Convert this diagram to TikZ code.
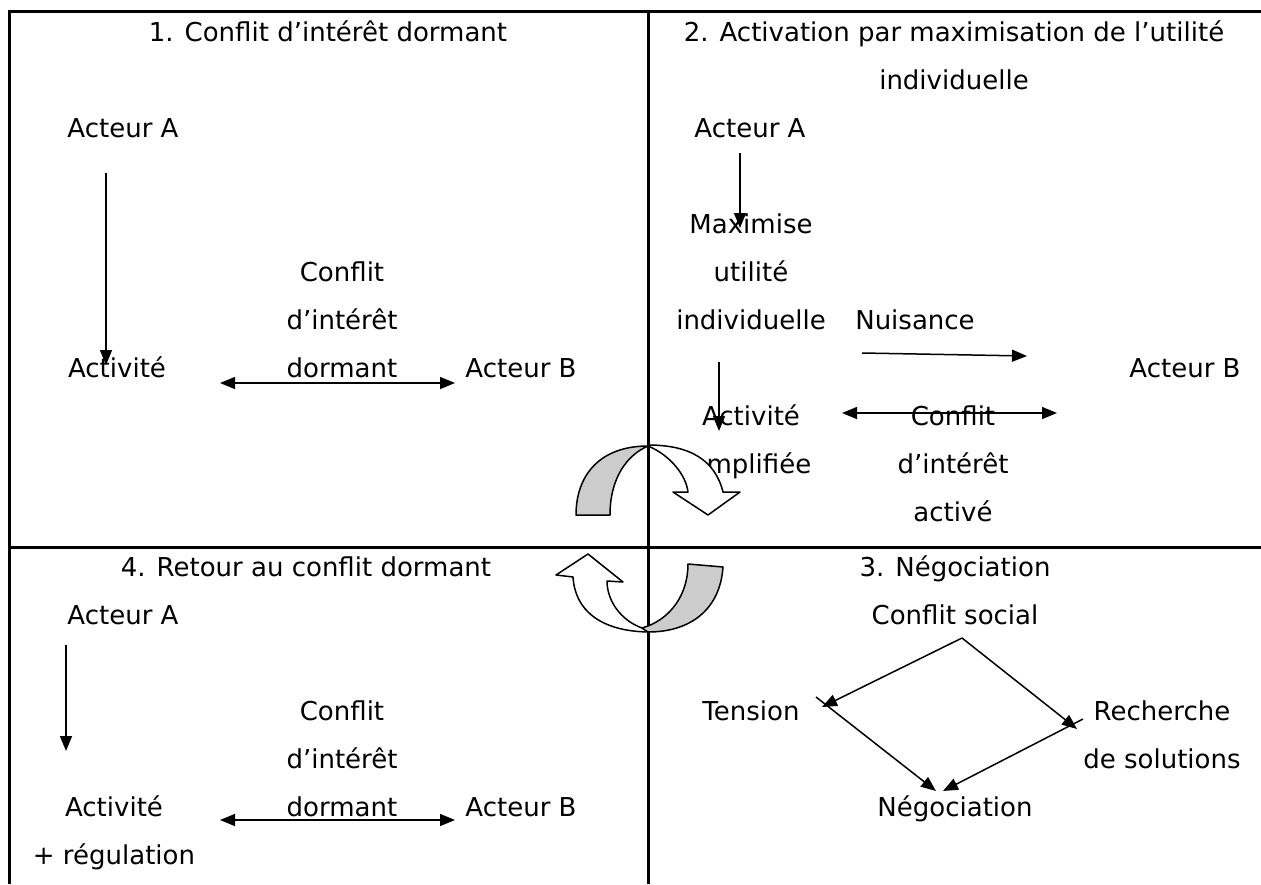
\documentclass[tikz,border=0pt]{standalone}
\usepackage{fontspec}
\setmainfont{DejaVu Sans}
\usetikzlibrary{arrows.meta}

\begin{document}
\begin{tikzpicture}[x=1pt,y=-1pt,
  txt/.style={font=\fontsize{26}{48}\selectfont,align=center,inner sep=0pt,
    anchor=north,yshift=33.6pt,execute at begin node=\strut},
  fleche/.style={line width=1.5pt,-{Triangle[length=15pt,width=12pt]}},
  fleches/.style={line width=1.5pt,{Triangle[length=15pt,width=12pt]}-{Triangle[length=15pt,width=12pt]}},
  cadre/.style={line width=3pt},
  ruban/.style={line width=1.5pt,line join=round}]
  \useasboundingbox (0,0) rectangle (1261,884);
  % cadre
  \draw[cadre] (1261,11) -- (9,11) -- (9,884);
  \draw[cadre] (648,11) -- (648,884);
  \draw[cadre] (8,547) -- (1261,547);

  % 1. conflit dormant
  \node[txt] (t1) at (328,41) {1. Conflit d’intérêt dormant};
  \node[txt] (a1) at (123,137) {Acteur A};
  \node[txt] (act1) at (117,377) {Activité};
  \node[txt] (cf1) at (342,281) {\strut Conflit\\d’intérêt\\dormant};
  \node[txt] (b1) at (521,377) {Acteur B};
  \coordinate (a1bas) at (106,173);
  \coordinate (act1haut) at (106,365);
  \coordinate (g1) at (220,383);
  \coordinate (d1) at (455,383);
  \draw[fleche] (a1bas) -- (act1haut);
  \draw[fleches] (g1) -- (d1);

  % 2. activation
  \node[txt] (t2) at (954,41) {\strut 2. Activation par maximisation de l’utilité\\individuelle};
  \node[txt] (a2) at (750,137) {Acteur A};
  \node[txt] (max2) at (751,233) {\strut Maximise\\utilité\\individuelle};
  \node[txt] (nui2) at (915,329) {Nuisance};
  \node[txt] (b2) at (1185,377) {Acteur B};
  \node[txt] (act2) at (751,425) {\strut Activité\\amplifiée};
  \node[txt] (cf2) at (953,425) {\strut Conflit\\d’intérêt\\activé};
  \coordinate (a2bas) at (740,153);
  \coordinate (max2haut) at (740,228);
  \coordinate (max2bas) at (719,362);
  \coordinate (act2haut) at (719,431);
  \coordinate (n1) at (862,353);
  \coordinate (n2) at (1027,356);
  \coordinate (g2) at (842,413);
  \coordinate (d2) at (1057,413);
  \draw[fleche] (a2bas) -- (max2haut);
  \draw[fleche] (max2bas) -- (act2haut);
  \draw[fleche] (n1) -- (n2);
  \draw[fleches] (g2) -- (d2);

  % 3. negociation
  \node[txt] (t3) at (955,576) {3. Négociation};
  \node[txt] (cs3) at (955,624) {Conflit social};
  \node[txt] (ten3) at (751,720) {Tension};
  \node[txt] (rec3) at (1162,720) {\strut Recherche\\de solutions};
  \node[txt] (neg3) at (955,816) {Négociation};
  \coordinate (s3) at (962,638);
  \coordinate (ten3p) at (822,707);
  \coordinate (ten3q) at (816,697);
  \coordinate (rec3p) at (1077,729);
  \coordinate (rec3q) at (1083,719);
  \coordinate (neg3g) at (936,791);
  \coordinate (neg3d) at (943,791);
  \draw[fleche] (s3) -- (ten3p);
  \draw[fleche] (s3) -- (rec3p);
  \draw[fleche] (ten3q) -- (neg3g);
  \draw[fleche] (rec3q) -- (neg3d);

  % 4. retour
  \node[txt] (t4) at (306,576) {4. Retour au conflit dormant};
  \node[txt] (a4) at (123,624) {Acteur A};
  \node[txt] (act4) at (114,816) {\strut Activité\\+ régulation};
  \node[txt] (cf4) at (342,720) {\strut Conflit\\d’intérêt\\dormant};
  \node[txt] (b4) at (521,816) {Acteur B};
  \coordinate (a4bas) at (66,645);
  \coordinate (act4haut) at (66,751);
  \coordinate (g4) at (220,820);
  \coordinate (d4) at (455,820);
  \draw[fleche] (a4bas) -- (act4haut);
  \draw[fleches] (g4) -- (d4);

  % fleches circulaires
  \draw[ruban,fill=white] (648,446) .. controls (670,455) and (686,475) .. (688,492)
    -- (673,492) -- (708,515) -- (740,492) -- (723,492)
    .. controls (715,460) and (690,445) .. (648,445) -- cycle;
  \draw[ruban,fill=gray!40] (576,515) -- (610,515) .. controls (610,478) and (627,455) .. (648,446)
    .. controls (600,446) and (576,475) .. (576,515) -- cycle;
  \draw[ruban,fill=white] (642,628) .. controls (620,620) and (607,600) .. (607,581)
    -- (623,582) -- (588,554) -- (556,575) -- (573,577)
    .. controls (575,610) and (600,631) .. (648,632) -- cycle;
  \draw[ruban,fill=gray!40] (688,564) -- (723,567) .. controls (720,610) and (690,632) .. (648,632)
    -- (642,628) .. controls (670,620) and (688,595) .. (688,564) -- cycle;
\end{tikzpicture}
\end{document}
